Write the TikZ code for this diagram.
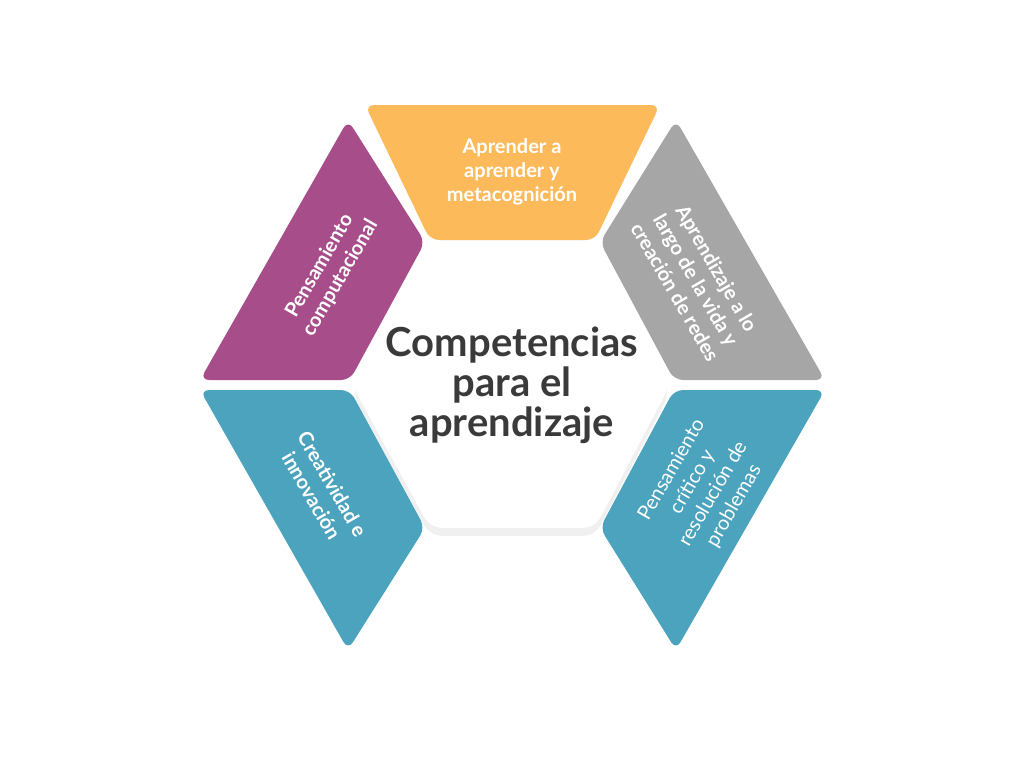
\documentclass[tikz,border=0pt]{standalone}
\usepackage{fontspec}
\setmainfont{Lato}
\usetikzlibrary{shadows}
\definecolor{orangeseg}{HTML}{FDBA5A}
\definecolor{purpleseg}{HTML}{A64D8A}
\definecolor{grayseg}{HTML}{A6A6A6}
\definecolor{blueseg}{HTML}{4BA3BD}
\definecolor{centertext}{HTML}{3A3A3A}
\tikzset{
  seg/.style={rounded corners=9pt, draw=none},
  segtext/.style={text=white, align=center, font=\fontsize{20}{24}\selectfont\bfseries},
}
\begin{document}
\begin{tikzpicture}[x=1pt,y=-1pt]
  \useasboundingbox (0,0) rectangle (1024,768);
  % segments
  \fill[seg, orangeseg] (365,105) -- (660,105) -- (595,240) -- (430,240) -- cycle;
  \fill[seg, purpleseg] (348,120) -- (425,242) -- (350,380) -- (200,380) -- cycle;
  \fill[seg, grayseg] (676,120) -- (825,380) -- (674,380) -- (600,242) -- cycle;
  \fill[seg, blueseg] (200,390) -- (350,390) -- (425,528) -- (348,650) -- cycle;
  \fill[seg, blueseg] (825,390) -- (674,390) -- (600,528) -- (676,650) -- cycle;
  % centre
  \fill[rounded corners=12pt, white, drop shadow={opacity=0.12, shadow xshift=0pt, shadow yshift=-8pt}]
    (430,242) -- (595,242) -- (670,385) -- (595,528) -- (430,528) -- (352,385) -- cycle;
  \node[text=centertext, align=center, font=\fontsize{40}{40}\selectfont\bfseries] (center) at (512,385) {Competencias\\para el\\aprendizaje};
  % labels
  \node[segtext] (top) at (512,172) {Aprender a\\aprender y\\metacognición};
  \node[segtext, rotate=60] (purple) at (330,272) {Pensamiento\\computacional};
  \node[segtext, rotate=-60] (gray) at (696,280) {Aprendizaje a lo\\largo de la vida y\\creación de redes};
  \node[segtext, rotate=-60] (bleft) at (322,490) {Creatividad e\\innovación};
  \node[segtext, rotate=60, font=\fontsize{20}{24}\selectfont] (bright) at (703,488) {Pensamiento\\crítico y\\resolución de\\problemas};
\end{tikzpicture}
\end{document}
